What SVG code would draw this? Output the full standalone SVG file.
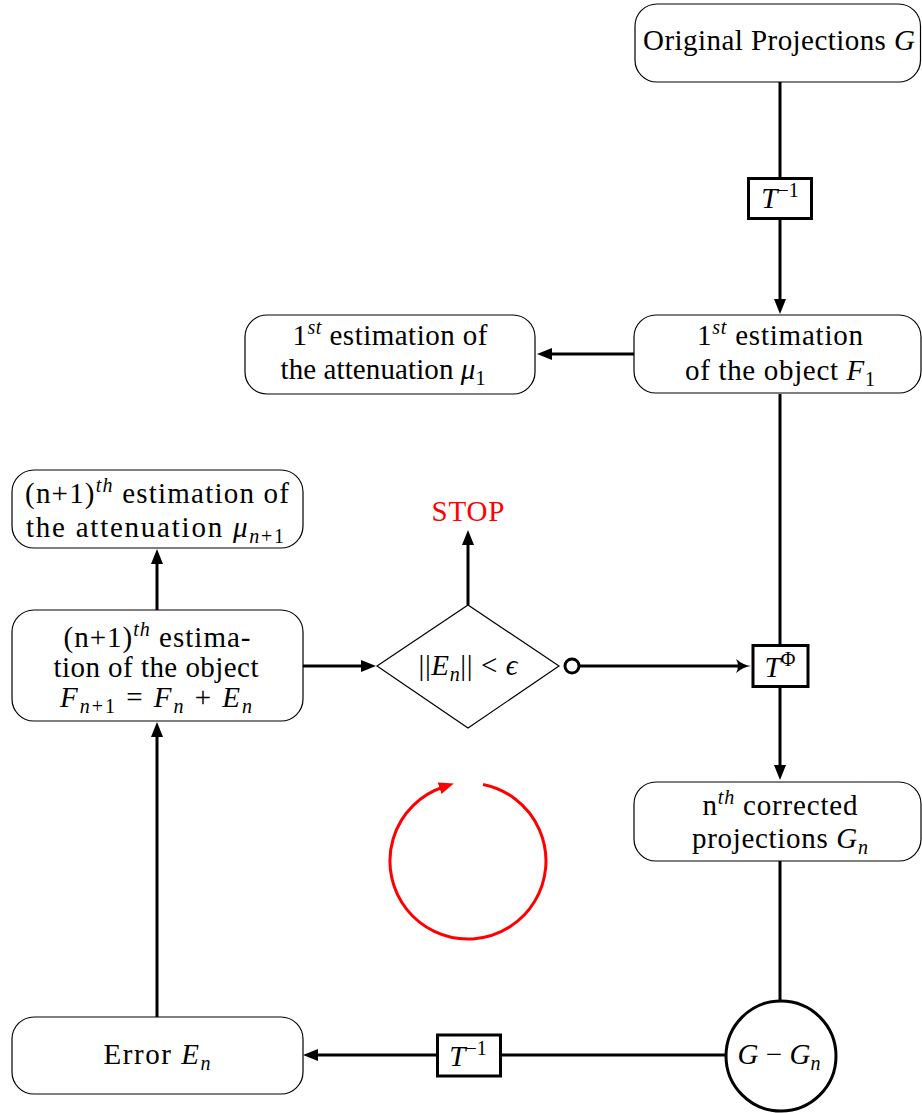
<svg xmlns="http://www.w3.org/2000/svg" width="922" height="1113" viewBox="0 0 922 1113" font-family="'Liberation Serif', 'DejaVu Serif', 'Times New Roman', serif">
<defs>
<style>
text{font-family:"Liberation Serif","DejaVu Serif","Times New Roman",serif;font-size:29px;fill:#000;text-anchor:middle}
.i{font-style:italic}
.s{font-size:20px}
.box{fill:#fff;stroke:#000;stroke-width:1.2}
.op{fill:#fff;stroke:#000;stroke-width:3}
.c{fill:none;stroke:#000;stroke-width:3}
.red{fill:none;stroke:#f00;stroke-width:3}
</style>
<marker id="ah" markerUnits="userSpaceOnUse" markerWidth="16" markerHeight="12" refX="4" refY="6" orient="auto"><path d="M0,0 L15,6 L0,12 Z" fill="#000"/></marker>
<marker id="rh" markerUnits="userSpaceOnUse" markerWidth="16" markerHeight="12" refX="4" refY="6" orient="auto"><path d="M0,0 L15,6 L0,12 Z" fill="#f00"/></marker>
<marker id="st" markerUnits="userSpaceOnUse" markerWidth="16" markerHeight="14" refX="8" refY="7" orient="auto"><path d="M0,0 Q7,6 15,7 Q7,8 0,14 Q4,7 0,0 Z" fill="#000"/></marker>
</defs>
<rect width="922" height="1113" fill="#fff"/>

<g id="connectors">
<line class="c" x1="780" y1="82" x2="780" y2="178"/>
<line class="c" x1="780" y1="219" x2="780" y2="303" marker-end="url(#ah)"/>
<line class="c" x1="634" y1="354" x2="548" y2="354" marker-end="url(#ah)"/>
<line class="c" x1="780" y1="394" x2="780" y2="645"/>
<line class="c" x1="780" y1="687" x2="780" y2="769" marker-end="url(#ah)"/>
<line class="c" x1="780" y1="861" x2="780" y2="1001"/>
<line class="c" x1="726" y1="1055" x2="501" y2="1055"/>
<line class="c" x1="436" y1="1055" x2="314" y2="1055" marker-end="url(#ah)"/>
<line class="c" x1="157" y1="1017" x2="157" y2="733" marker-end="url(#ah)"/>
<line class="c" x1="157" y1="610" x2="157" y2="560" marker-end="url(#ah)"/>
<line class="c" x1="303" y1="666" x2="365" y2="666" marker-end="url(#ah)"/>
<line class="c" x1="468" y1="605" x2="468" y2="541" marker-end="url(#ah)"/>
<line class="c" x1="579" y1="666" x2="744" y2="666" marker-end="url(#st)"/>
<circle cx="572" cy="666" r="7" fill="#fff" stroke="#000" stroke-width="3"/>
<path class="red" d="M483,784.5 A78,78 0 1,1 443.4,787" marker-end="url(#rh)"/>
</g>

<g id="original">
<rect class="box" x="635" y="4" width="285.5" height="78" rx="22"/>
<text x="779" y="50" textLength="272">Original Projections <tspan class="i">G</tspan></text>
</g>

<g id="tinv-top">
<rect class="op" x="748.5" y="178.5" width="63" height="40"/>
<text x="780" y="208"><tspan class="i">T</tspan><tspan class="s" dy="-11">−1</tspan></text>
</g>

<g id="est-object-1">
<rect class="box" x="634" y="315" width="287" height="78" rx="22"/>
<text x="780" y="345" textLength="166">1<tspan class="s i" dy="-11">st</tspan><tspan dy="11"> estimation</tspan></text>
<text x="780" y="380" textLength="190">of the object <tspan class="i">F</tspan><tspan class="s" dy="6">1</tspan></text>
</g>

<g id="est-atten-1">
<rect class="box" x="245" y="315" width="290" height="79" rx="22"/>
<text x="390" y="345" textLength="195">1<tspan class="s i" dy="-11">st</tspan><tspan dy="11"> estimation of</tspan></text>
<text x="383" y="379" textLength="205">the attenuation <tspan class="i">μ</tspan><tspan class="s" dy="6">1</tspan></text>
</g>

<g id="est-atten-n1">
<rect class="box" x="12" y="470" width="291" height="78" rx="22"/>
<text x="157" y="503" textLength="264">(n+1)<tspan class="s i" dy="-11">th</tspan><tspan dy="11"> estimation of</tspan></text>
<text x="155" y="537" textLength="258">the attenuation <tspan class="i">μ</tspan><tspan class="s" dy="6"><tspan class="i">n</tspan>+1</tspan></text>
</g>

<g id="est-object-n1">
<rect class="box" x="12" y="610" width="291" height="111" rx="22"/>
<text x="157" y="647" textLength="187">(n+1)<tspan class="s i" dy="-11">th</tspan><tspan dy="11"> estima-</tspan></text>
<text x="156" y="677" textLength="205">tion of the object</text>
<text x="156" y="707" textLength="192"><tspan class="i">F</tspan><tspan class="s" dy="6"><tspan class="i">n</tspan>+1</tspan><tspan dy="-6"> = </tspan><tspan class="i">F</tspan><tspan class="s i" dy="6">n</tspan><tspan dy="-6"> + </tspan><tspan class="i">E</tspan><tspan class="s i" dy="6">n</tspan></text>
</g>

<g id="decision">
<polygon points="377,666 468,605 559,666 468,728" fill="#fff" stroke="#000" stroke-width="1.2"/>
<text x="468" y="675" textLength="99">||<tspan class="i">E</tspan><tspan class="s i" dy="6">n</tspan><tspan dy="-6">|| &lt; </tspan><tspan class="i">ϵ</tspan></text>
</g>

<g id="stop">
<text x="468" y="521" style="fill:#f00" textLength="73">STOP</text>
</g>

<g id="tphi">
<rect class="op" x="753" y="645.5" width="55" height="41"/>
<text x="780" y="677"><tspan class="i">T</tspan><tspan class="s" dy="-11">Φ</tspan></text>
</g>

<g id="corrected">
<rect class="box" x="634" y="782" width="287" height="79" rx="22"/>
<text x="780" y="815" textLength="155">n<tspan class="s i" dy="-11">th</tspan><tspan dy="11"> corrected</tspan></text>
<text x="780" y="848" textLength="176">projections <tspan class="i">G</tspan><tspan class="s i" dy="6">n</tspan></text>
</g>

<g id="difference">
<circle class="op" cx="781" cy="1056" r="55"/>
<text x="779" y="1064" textLength="83"><tspan class="i">G</tspan> − <tspan class="i">G</tspan><tspan class="s i" dy="6">n</tspan></text>
</g>

<g id="tinv-bottom">
<rect class="op" x="437.5" y="1035" width="63" height="41"/>
<text x="468" y="1066"><tspan class="i">T</tspan><tspan class="s" dy="-11">−1</tspan></text>
</g>

<g id="error">
<rect class="box" x="12" y="1017" width="291" height="77" rx="22"/>
<text x="157" y="1064" textLength="107">Error <tspan class="i">E</tspan><tspan class="s i" dy="6">n</tspan></text>
</g>
</svg>
